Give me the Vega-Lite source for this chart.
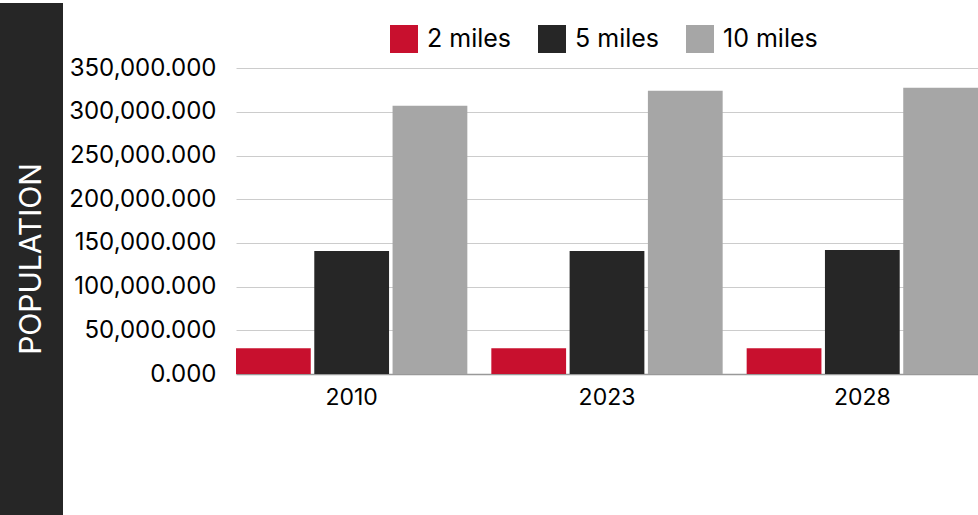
{
  "$schema": "https://vega.github.io/schema/vega-lite/v6.json",
  "padding": {"top": 3, "left": 0, "right": 0, "bottom": 0},
  "background": "white",
  "spacing": 5,
  "config": {"view": {"stroke": null}, "font": "Inter"},
  "resolve": {"legend": {"color": "independent"}, "scale": {"color": "independent"}},
  "hconcat": [
    {
      "width": 63,
      "height": 512,
      "view": {"fill": "#262626", "stroke": null},
      "data": {"values": [{"label": "POPULATION"}]},
      "mark": {"type": "text", "angle": 270, "color": "white", "fontSize": 30, "font": "Inter", "align": "center", "baseline": "middle"},
      "encoding": {"text": {"field": "label"}}
    },
    {
      "width": 742,
      "height": 371,
      "data": {
        "values": [
          {"year": "2010", "radius": "2 miles", "population": 29500},
          {"year": "2010", "radius": "5 miles", "population": 140700},
          {"year": "2010", "radius": "10 miles", "population": 307000},
          {"year": "2023", "radius": "2 miles", "population": 29500},
          {"year": "2023", "radius": "5 miles", "population": 140700},
          {"year": "2023", "radius": "10 miles", "population": 324200},
          {"year": "2028", "radius": "2 miles", "population": 29500},
          {"year": "2028", "radius": "5 miles", "population": 141900},
          {"year": "2028", "radius": "10 miles", "population": 327600}
        ]
      },
      "mark": {"type": "bar"},
      "encoding": {
        "x": {
          "field": "year",
          "type": "nominal",
          "scale": {"paddingInner": 0.094, "paddingOuter": 0, "align": 0},
          "axis": {
            "title": null,
            "labelAngle": 0,
            "labelFontSize": 23,
            "labelColor": "#000000",
            "labelPadding": 12,
            "ticks": false,
            "domainColor": "#999999",
            "domainWidth": 1.5,
            "grid": false
          }
        },
        "xOffset": {
          "field": "radius",
          "type": "nominal",
          "sort": ["2 miles", "5 miles", "10 miles"],
          "scale": {"paddingInner": 0.045}
        },
        "y": {
          "field": "population",
          "type": "quantitative",
          "scale": {"domain": [0, 424700], "nice": false},
          "axis": {
            "title": null,
            "values": [0, 50000, 100000, 150000, 200000, 250000, 300000, 350000],
            "format": ",.3f",
            "labelFontSize": 24,
            "labelColor": "#000000",
            "labelPadding": 20,
            "ticks": false,
            "domain": false,
            "gridColor": "#cccccc",
            "gridWidth": 1
          }
        },
        "color": {
          "field": "radius",
          "type": "nominal",
          "sort": ["2 miles", "5 miles", "10 miles"],
          "scale": {"domain": ["2 miles", "5 miles", "10 miles"], "range": ["#C8102E", "#262626", "#A6A6A6"]},
          "legend": {
            "title": null,
            "orient": "none",
            "direction": "horizontal",
            "legendX": 154,
            "legendY": 22,
            "padding": 0,
            "symbolType": "square",
            "symbolSize": 784,
            "symbolStrokeWidth": 0,
            "symbolOpacity": 1,
            "labelFontSize": 25,
            "labelColor": "#000000",
            "labelOffset": 9,
            "columnPadding": 26
          }
        }
      }
    }
  ]
}
